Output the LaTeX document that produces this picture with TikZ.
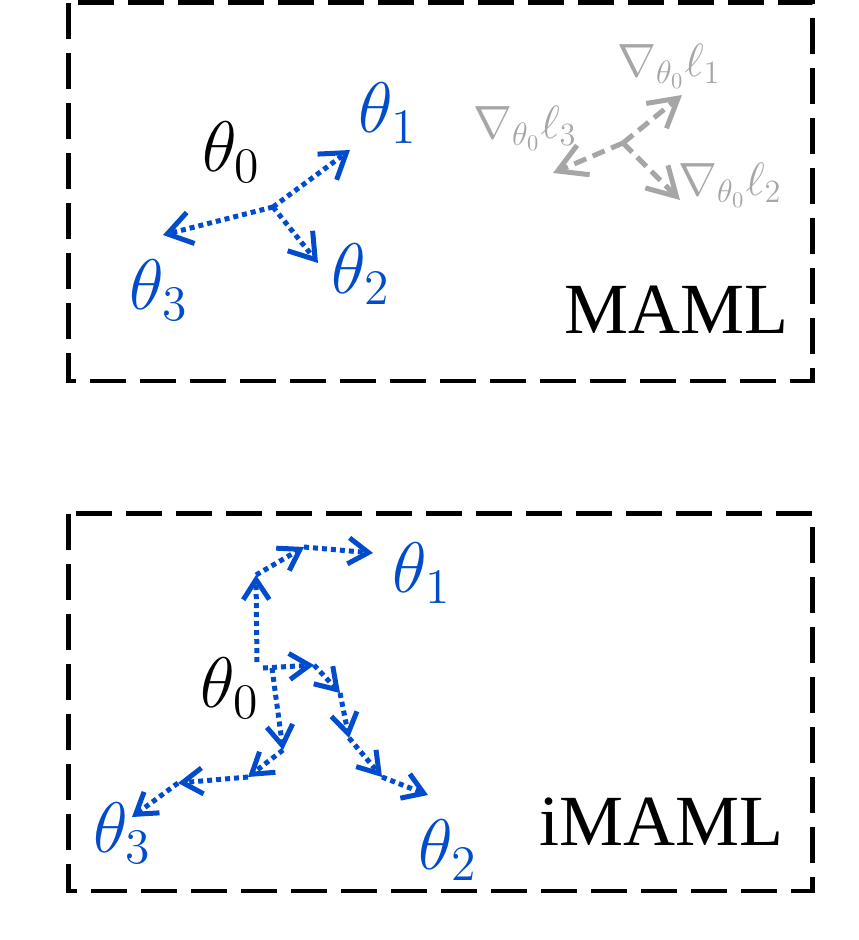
\documentclass[tikz,border=0pt]{standalone}
\usepackage{fontspec}
\setmainfont{Liberation Serif}
\usetikzlibrary{arrows.meta}
\definecolor{myblue}{RGB}{0,76,204}
\definecolor{mygray}{RGB}{166,166,166}
\tikzset{
  boxline/.style={draw=black, line width=4.5pt, dash pattern=on 36pt off 14pt},
  thetalbl/.style={inner sep=0pt, font=\fontsize{20}{24}\selectfont, scale=3.45},
  gradlbl/.style={inner sep=0pt, text=mygray, font=\fontsize{20}{24}\selectfont, scale=2.25},
  methodlbl/.style={inner sep=0pt, font=\fontsize{72}{76}\selectfont},
  bigstep/.style={draw=myblue, line width=5pt, dash pattern=on 5pt off 4pt,
    -{Straight Barb[length=24pt,width=32pt,line width=5pt]}},
  smallstep/.style={draw=myblue, line width=5pt, dash pattern=on 5pt off 4pt,
    -{Straight Barb[length=20pt,width=26pt,line width=5pt]}},
  gradarrow/.style={draw=mygray, line width=5pt, dash pattern=on 13pt off 7pt,
    -{Straight Barb[length=28pt,width=32pt,line width=5pt]}},
}
\begin{document}
\begin{tikzpicture}[x=1pt,y=-1pt]
\useasboundingbox (0,0) rectangle (859,940);

% ---------- MAML box ----------
\draw[boxline] (68.5,2.5) rectangle (812.5,381);
\node[thetalbl] (a0) at (231.5,152) {$\theta_0$};
\node[thetalbl, text=myblue] (a1) at (388,113.5) {$\theta_1$};
\node[thetalbl, text=myblue] (a2) at (361,274.5) {$\theta_2$};
\node[thetalbl, text=myblue] (a3) at (159,290) {$\theta_3$};
\node[methodlbl, anchor=base east] (maml) at (789,333) {MAML};

\coordinate (ao) at (273,207);
\coordinate (ap1) at (350,150);
\coordinate (ap2) at (318,263);
\coordinate (ap3) at (163,235);
\draw[bigstep] (ao) -- (ap1);
\draw[bigstep] (ao) -- (ap2);
\draw[bigstep] (ao) -- (ap3);

\coordinate (go) at (623,143);
\coordinate (g1) at (682,95);
\coordinate (g2) at (680,200);
\coordinate (g3) at (553,173);
\draw[gradarrow] (go) -- (g1);
\draw[gradarrow] (go) -- (g2);
\draw[gradarrow] (go) -- (g3);
\node[gradlbl] (l1) at (669,66) {$\nabla_{\theta_0}\ell_1$};
\node[gradlbl] (l2) at (730,185) {$\nabla_{\theta_0}\ell_2$};
\node[gradlbl] (l3) at (525,128) {$\nabla_{\theta_0}\ell_3$};

% ---------- iMAML box ----------
\draw[boxline] (68.5,513.5) rectangle (812.5,891);
\node[thetalbl] (b0) at (230,688.5) {$\theta_0$};
\node[thetalbl, text=myblue] (b1) at (422,573.5) {$\theta_1$};
\node[thetalbl, text=myblue] (b2) at (448,850) {$\theta_2$};
\node[thetalbl, text=myblue] (b3) at (122.5,833.5) {$\theta_3$};
\node[methodlbl, anchor=base east] (imaml) at (784,845) {iMAML};

% path to theta_1
\coordinate (p0) at (257,662);
\coordinate (p1) at (256,575);
\coordinate (p2) at (304,547);
\coordinate (p3) at (373,553);
\draw[smallstep] (p0) -- (p1);
\draw[smallstep] (p1) -- (p2);
\draw[smallstep] (p2) -- (p3);

% path to theta_2
\coordinate (q0) at (263,668);
\coordinate (q1) at (314,665);
\coordinate (q2) at (340,693);
\coordinate (q3) at (349,738);
\coordinate (q4) at (382,777);
\coordinate (q5) at (428,795);
\draw[smallstep] (q0) -- (q1);
\draw[smallstep] (q1) -- (q2);
\draw[smallstep] (q2) -- (q3);
\draw[smallstep] (q3) -- (q4);
\draw[smallstep] (q4) -- (q5);

% path to theta_3
\coordinate (r0) at (272,668);
\coordinate (r1) at (283,750);
\coordinate (r2) at (248,777);
\coordinate (r3) at (178,783);
\coordinate (r4) at (132,817);
\draw[smallstep] (r0) -- (r1);
\draw[smallstep] (r1) -- (r2);
\draw[smallstep] (r2) -- (r3);
\draw[smallstep] (r3) -- (r4);
\end{tikzpicture}
\end{document}
